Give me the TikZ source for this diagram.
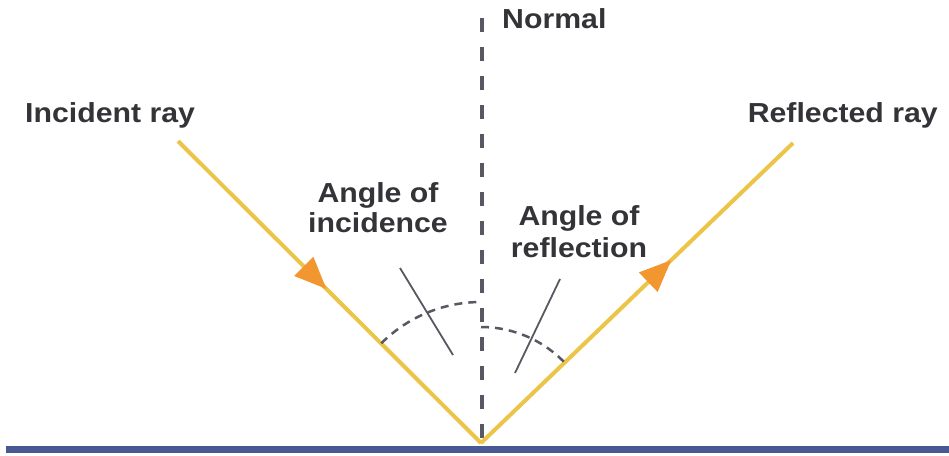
\documentclass[tikz,border=0pt]{standalone}
\usepackage{fontspec}
\setmainfont{Liberation Sans}
\usetikzlibrary{arrows.meta,decorations.markings}
\definecolor{raycol}{RGB}{236,196,72}
\definecolor{tipcol}{RGB}{242,150,48}
\definecolor{mirrorcol}{RGB}{72,88,146}
\definecolor{normcol}{RGB}{88,88,98}
\definecolor{txtcol}{RGB}{52,52,56}
\begin{document}
\begin{tikzpicture}[x=1pt,y=-1pt,
  ray/.style={raycol,line width=4pt},
  lbl/.style={text=txtcol,font=\bfseries\fontsize{27.5}{31}\selectfont,inner sep=0pt,xscale=1.1,align=center},
  normline/.style={normcol,line width=3.5pt,dash pattern=on 14pt off 15pt},
  anglearc/.style={normcol,line width=2.5pt,dash pattern=on 8pt off 6pt},
  pointer/.style={normcol,line width=1.8pt},
  tipmark/.style={postaction={decorate,decoration={markings,
     mark=at position #1 with {\arrow[tipcol]{Triangle[length=32pt,width=26pt]}}}}}]
\useasboundingbox[fill=white] (0,0) rectangle (949,455);
\coordinate (O) at (481,443);
\coordinate (I) at (178,141);
\coordinate (R) at (793,143);
\coordinate (Ntop) at (482,18);
\coordinate (Nbot) at (482,443);
\coordinate (ML) at (6,449);
\coordinate (MR) at (949,449);
% mirror
\draw[mirrorcol,line width=7pt] (ML) -- (MR);
% normal
\draw[normline] (Ntop) -- (Nbot);
% rays
\draw[ray,tipmark=0.49] (I) -- (O);
\draw[ray,tipmark=0.61] (O) -- (R);
% angle arcs
\draw[anglearc] plot[domain=225:270,samples=40] ({481+141*cos(\x)},{443+141*sin(\x)});
\draw[anglearc] plot[domain=270:316,samples=40] ({481+116*cos(\x)},{443+116*sin(\x)});
% pointers
\coordinate (P1a) at (400,268);
\coordinate (P1b) at (453,355);
\coordinate (P2a) at (560,279);
\coordinate (P2b) at (515,373);
\draw[pointer] (P1a) -- (P1b);
\draw[pointer] (P2a) -- (P2b);
% labels
\node[lbl,anchor=base west] (normal) at (502,28) {Normal};
\node[lbl,anchor=base west] (inc) at (25,122) {Incident ray};
\node[lbl,anchor=base east] (refl) at (938,122) {Reflected ray};
\node[lbl,anchor=base] (aoi1) at (378,202) {Angle of};
\node[lbl,anchor=base] (aoi2) at (378,232) {incidence};
\node[lbl,anchor=base] (aor1) at (579,225) {Angle of};
\node[lbl,anchor=base] (aor2) at (579,257) {reflection};
\end{tikzpicture}
\end{document}
